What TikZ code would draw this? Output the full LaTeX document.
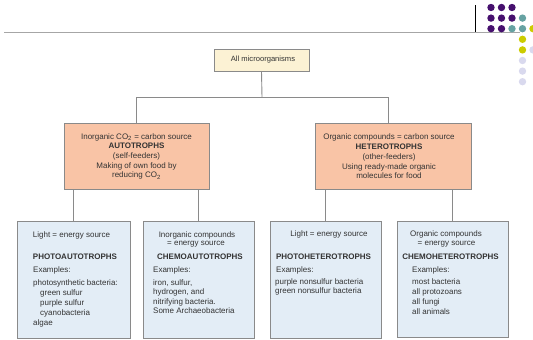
\documentclass[tikz,border=0pt]{standalone}
\usepackage{fontspec}
\setmainfont{Liberation Sans}
\definecolor{cream}{HTML}{FCF2D4}
\definecolor{salmon}{HTML}{F9C4A6}
\definecolor{paleblue}{HTML}{E3EDF6}
\definecolor{boxgray}{HTML}{8A8A8A}
\definecolor{txt}{HTML}{333333}
\definecolor{purp}{HTML}{46106E}
\definecolor{teal1}{HTML}{66A2A2}
\definecolor{yel}{HTML}{CCCC00}
\definecolor{lav}{HTML}{D9D9EE}
\begin{document}
\begin{tikzpicture}[x=1pt,y=-1pt,
  boxn/.style={draw=boxgray, line width=0.8pt, inner sep=0pt},
  conn/.style={draw=boxgray, line width=0.9pt},
  t/.style={inner sep=0pt, text=txt, font=\fontsize{8}{9.7}\selectfont},
  tb/.style={inner sep=0pt, text=txt, font=\fontsize{8}{9.7}\selectfont\bfseries},
  tl/.style={t, anchor=west},
  dot/.style={radius=3.7pt}]
\useasboundingbox (0,0) rectangle (533,340);
% header decoration
\draw[gray!70, line width=0.8pt] (4,32.3) -- (520,32.3);
\draw[black, line width=0.9pt] (475,5) -- (475,32.3);
\foreach \c/\r/\col in {0/0/purp,1/0/purp,2/0/purp,
  0/1/purp,1/1/purp,2/1/purp,3/1/teal1,
  0/2/purp,1/2/purp,2/2/teal1,3/2/teal1,4/2/yel,
  3/3/yel,3/4/yel,4/4/lav,3/5/lav,3/6/lav,3/7/lav}
  \fill[\col] (491+10.5*\c, 7.5+10.6*\r) circle[dot];
% boxes
\node[boxn, fill=cream, minimum width=95pt, minimum height=22pt] (top) at (261.5,60) {};
\node[t, font=\fontsize{7.6}{9}\selectfont] (toptxt) at (263,60) {All microorganisms};
\node[boxn, fill=salmon, minimum width=145pt, minimum height=66pt] (auto) at (136.5,156) {};
\node[t, align=center] (autotxt) at (136.5,156.5) {Inorganic CO\textsubscript{2} = carbon source\\
  \textbf{AUTOTROPHS}\\(self-feeders)\\Making of own food by\\reducing CO\textsubscript{2}};
\node[boxn, fill=salmon, minimum width=156pt, minimum height=66pt] (het) at (393,156) {};
\node[t, align=center] (hettxt) at (389,156.5) {Organic compounds = carbon source\\
  \textbf{HETEROTROPHS}\\(other-feeders)\\Using ready-made organic\\molecules for food};
\node[boxn, fill=paleblue, minimum width=113pt, minimum height=117pt] (b1) at (73.5,279.5) {};
\node[boxn, fill=paleblue, minimum width=111pt, minimum height=117pt] (b2) at (198.5,279.5) {};
\node[boxn, fill=paleblue, minimum width=111pt, minimum height=117pt] (b3) at (325.5,279.5) {};
\node[boxn, fill=paleblue, minimum width=111pt, minimum height=116pt] (b4) at (452.5,279) {};
% connectors
\coordinate (j) at (262,97);
\draw[conn] (top.south) -- (j);
\draw[conn] (j) -| (auto.north);
\draw[conn] (j) -| ([xshift=-5pt]het.north);
\draw[conn] (b1.north |- auto.south) -- (b1.north);
\draw[conn] (b2.north |- auto.south) -- (b2.north);
\draw[conn] (b3.north |- het.south) -- (b3.north);
\draw[conn] (b4.north |- het.south) -- (b4.north);
% box 1 text
\node[t] (b1a) at (71.5,235) {Light = energy source};
\node[tb] (b1b) at (75,257) {PHOTOAUTOTROPHS};
\node[tl] (b1c) at (33,270) {Examples:};
\node[tl] (b1d) at (33,283) {photosynthetic bacteria:};
\node[tl] (b1e) at (40,293) {green sulfur};
\node[tl] (b1f) at (40,303) {purple sulfur};
\node[tl] (b1g) at (40,313) {cyanobacteria};
\node[tl] (b1h) at (33,323) {algae};
% box 2 text
\node[t] (b2a) at (197,235) {Inorganic compounds};
\node[t] (b2b) at (196,244) {= energy source};
\node[tb] (b2c) at (200,257) {CHEMOAUTOTROPHS};
\node[tl] (b2d) at (153,270) {Examples:};
\node[tl] (b2e) at (153,283) {iron, sulfur,};
\node[tl] (b2f) at (153,292.5) {hydrogen, and};
\node[tl] (b2g) at (153,302) {nitrifying bacteria.};
\node[tl] (b2h) at (153,311) {Some Archaeobacteria};
% box 3 text
\node[t] (b3a) at (329,234) {Light = energy source};
\node[tb] (b3b) at (323.5,257) {PHOTOHETEROTROPHS};
\node[tl] (b3c) at (276,270) {Examples:};
\node[tl] (b3d) at (275,282) {purple nonsulfur bacteria};
\node[tl] (b3e) at (275,291) {green nonsulfur bacteria};
% box 4 text
\node[t] (b4a) at (446,234) {Organic compounds};
\node[t] (b4b) at (446.5,244) {= energy source};
\node[tb] (b4c) at (450.5,257) {CHEMOHETEROTROPHS};
\node[tl] (b4d) at (412,270) {Examples:};
\node[tl] (b4e) at (412,282) {most bacteria};
\node[tl] (b4f) at (412,292) {all protozoans};
\node[tl] (b4g) at (412,302) {all fungi};
\node[tl] (b4h) at (412,312) {all animals};
\end{tikzpicture}
\end{document}
